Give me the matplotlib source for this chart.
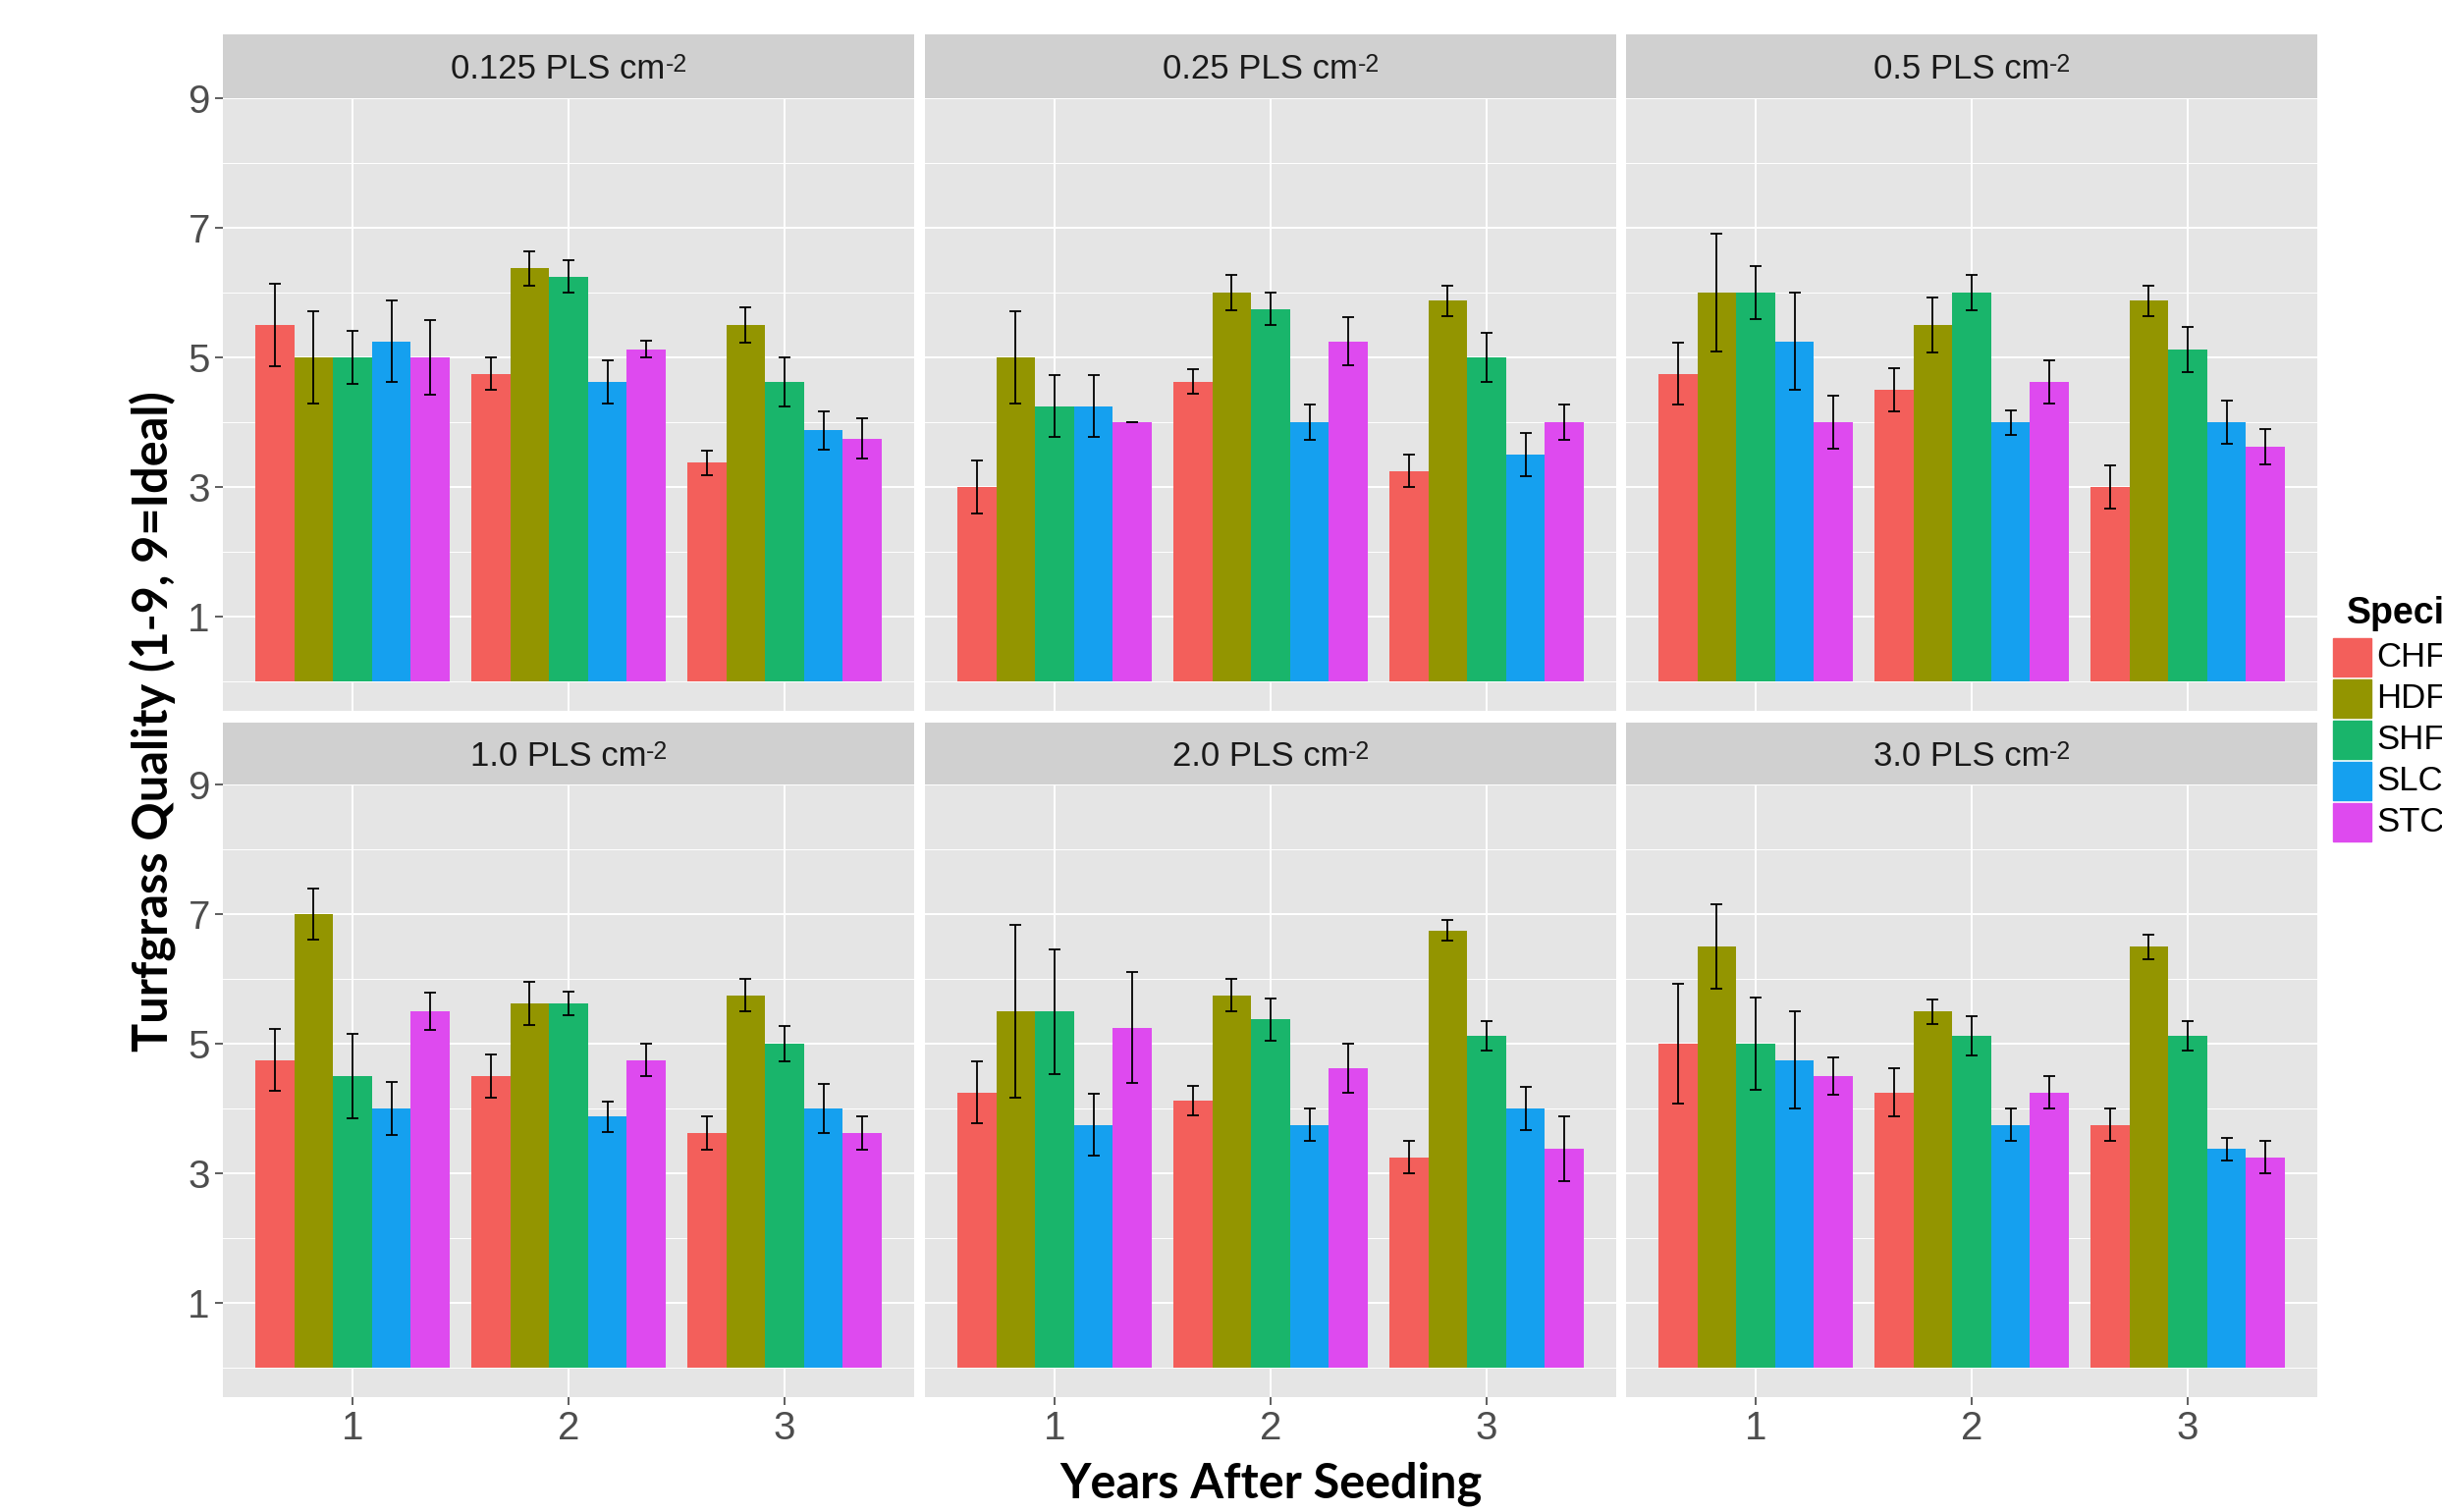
import numpy as np
import matplotlib.pyplot as plt

# panel facets (seeding rate), x groups and fill groups
densities = ["0.125", "0.25", "0.5", "1.0", "2.0", "3.0"]
years = [1, 2, 3]
species = ["CHF", "HDF", "SHF", "SLC", "STC"]
colors = ["#F35F5B", "#939500", "#19B56B", "#15A0EF", "#DE4AEF"]

# mean turfgrass quality, rows = year 1..3, columns = species
means_0125 = [[5.5, 5.0, 5.0, 5.25, 5.0], [4.75, 6.375, 6.25, 4.625, 5.125], [3.375, 5.5, 4.625, 3.875, 3.75]]
means_025 = [[3.0, 5.0, 4.25, 4.25, 4.0], [4.625, 6.0, 5.75, 4.0, 5.25], [3.25, 5.875, 5.0, 3.5, 4.0]]
means_05 = [[4.75, 6.0, 6.0, 5.25, 4.0], [4.5, 5.5, 6.0, 4.0, 4.625], [3.0, 5.875, 5.125, 4.0, 3.625]]
means_10 = [[4.75, 7.0, 4.5, 4.0, 5.5], [4.5, 5.625, 5.625, 3.875, 4.75], [3.625, 5.75, 5.0, 4.0, 3.625]]
means_20 = [[4.25, 5.5, 5.5, 3.75, 5.25], [4.125, 5.75, 5.375, 3.75, 4.625], [3.25, 6.75, 5.125, 4.0, 3.375]]
means_30 = [[5.0, 6.5, 5.0, 4.75, 4.5], [4.25, 5.5, 5.125, 3.75, 4.25], [3.75, 6.5, 5.125, 3.375, 3.25]]

# standard errors, same layout
se_0125 = [[0.64, 0.71, 0.41, 0.63, 0.58], [0.25, 0.27, 0.25, 0.33, 0.13], [0.19, 0.27, 0.38, 0.30, 0.31]]
se_025 = [[0.41, 0.71, 0.48, 0.48, 0.0], [0.19, 0.27, 0.25, 0.27, 0.37], [0.25, 0.23, 0.38, 0.33, 0.27]]
se_05 = [[0.48, 0.91, 0.41, 0.75, 0.41], [0.33, 0.42, 0.27, 0.19, 0.33], [0.33, 0.23, 0.35, 0.33, 0.27]]
se_10 = [[0.48, 0.40, 0.65, 0.41, 0.29], [0.33, 0.33, 0.18, 0.23, 0.25], [0.26, 0.25, 0.27, 0.38, 0.26]]
se_20 = [[0.48, 1.33, 0.96, 0.48, 0.85], [0.23, 0.25, 0.33, 0.25, 0.38], [0.25, 0.16, 0.23, 0.33, 0.50]]
se_30 = [[0.92, 0.65, 0.71, 0.75, 0.29], [0.37, 0.19, 0.30, 0.25, 0.25], [0.25, 0.19, 0.23, 0.18, 0.25]]

all_means = [means_0125, means_025, means_05, means_10, means_20, means_30]
all_se = [se_0125, se_025, se_05, se_10, se_20, se_30]

W, H = 2487, 1540
fig = plt.figure(figsize=(W / 100, H / 100), dpi=100)
fig.patch.set_facecolor("white")

tick_font = "Liberation Sans"
title_font = "Lato"

col_left = [227, 942, 1656]
panel_w = 704
row_top = [100, 799]
row_bot = [724, 1423]
strip_top = [35, 736]

bw = 0.9 / len(species)

for k, dens in enumerate(densities):
    r, c = divmod(k, 3)
    ax = fig.add_axes([col_left[c] / W, 1 - row_bot[r] / H, panel_w / W,
                       (row_bot[r] - row_top[r]) / H])
    ax.set_facecolor("#E5E5E5")
    for s in ax.spines.values():
        s.set_visible(False)
    ax.set_axisbelow(True)

    m = np.array(all_means[k])
    e = np.array(all_se[k])
    for i, sp in enumerate(species):
        xpos = np.array(years) + (i - 2) * bw
        ax.bar(xpos, m[:, i], width=bw, color=colors[i], linewidth=0)
        ax.errorbar(xpos, m[:, i], yerr=e[:, i], fmt="none", ecolor="black",
                    elinewidth=1.3, capsize=4, capthick=1.3)

    ax.set_xlim(0.4, 3.6)
    ax.set_ylim(-0.45, 9.0)
    ax.set_xticks(years)
    ax.set_yticks([1, 3, 5, 7, 9])
    ax.set_yticks([0, 2, 4, 6, 8], minor=True)
    ax.grid(True, which="major", color="white", linewidth=1.4)
    ax.grid(True, which="minor", axis="y", color="white", linewidth=0.7)
    ax.tick_params(which="minor", length=0)
    ax.tick_params(which="major", length=5.5, width=1.1, color="#333333",
                   labelsize=29, labelcolor="#4D4D4D", pad=4)
    for lab in ax.get_xticklabels() + ax.get_yticklabels():
        lab.set_family(tick_font)
    if r == 0:
        ax.tick_params(axis="x", length=0, labelbottom=False)
    if c != 0:
        ax.tick_params(axis="y", length=0, labelleft=False)

    # facet strip, with a hyphen superscript like the original
    sax = fig.add_axes([col_left[c] / W, 1 - row_top[r] / H, panel_w / W,
                        (row_top[r] - strip_top[r]) / H])
    sax.set_facecolor("#D0D0D0")
    sax.set_xticks([])
    sax.set_yticks([])
    for s in sax.spines.values():
        s.set_visible(False)
    t = sax.text(0.485, 0.45, dens + " PLS cm", transform=sax.transAxes,
                 ha="center", va="center", fontsize=25, family=tick_font, color="#1A1A1A")
    sax.annotate("-2", xy=(1.0, 1.0), xycoords=t, ha="left", va="top",
                 fontsize=18, family=tick_font, color="#1A1A1A")

fig.text(155 / W, 1 - 735 / H, "Turfgrass Quality (1-9, 9=Ideal)", rotation=90,
         ha="center", va="center", fontsize=35, fontweight="bold", family=title_font)
fig.text(1294 / W, 1 - 1511 / H, "Years After Seeding", ha="center", va="center",
         fontsize=35, fontweight="bold", family=title_font)

# legend, cut off at the right edge like the original
fig.text(2390 / W, 1 - 635 / H, "Species", ha="left", va="baseline",
         fontsize=27, fontweight="bold", family=tick_font)
for i, sp in enumerate(species):
    top = 650 + i * 42
    fig.patches.append(plt.Rectangle((2376 / W, 1 - (top + 39) / H), 39 / W, 39 / H,
                                     transform=fig.transFigure, color=colors[i], figure=fig))
    fig.text(2420 / W, 1 - (top + 19.5) / H, sp, ha="left", va="center",
             fontsize=25, family=tick_font)

fig.savefig("out.png", dpi=100)
